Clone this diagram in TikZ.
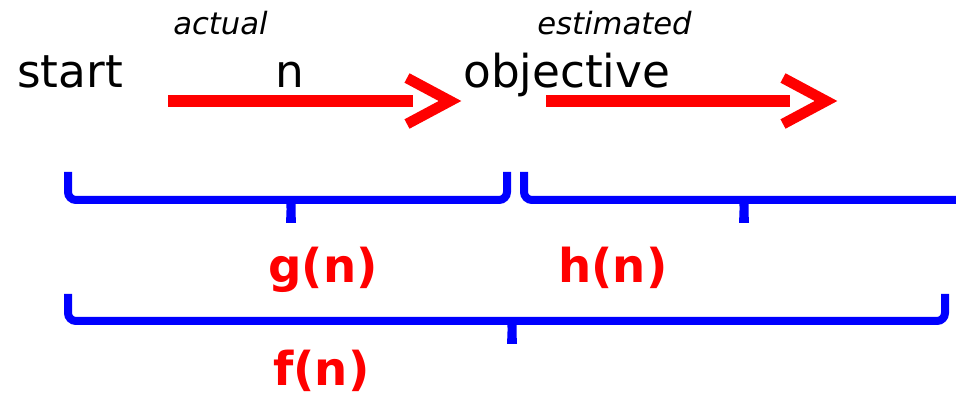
\documentclass[tikz,border=0pt]{standalone}
\usepackage{fontspec}
\setmainfont{DejaVu Sans}
\usepackage{tikz}
\usetikzlibrary{positioning,calc}

\tikzset{
  word/.style={anchor=base west, inner sep=0pt, font=\fontsize{34}{40}\selectfont},
  note/.style={anchor=base west, inner sep=0pt, font=\fontsize{23}{28}\selectfont\itshape},
  func/.style={anchor=base west, inner sep=0pt, text=red, font=\fontsize{35}{42}\selectfont\bfseries},
  shaft/.style={draw=red, line width=9pt},
  head/.style={draw=red, line width=8pt, miter limit=10},
  bracket/.style={draw=blue, line width=6pt, rounded corners=6pt},
  tip/.style={fill=blue}
}

\begin{document}
\begin{tikzpicture}[x=0.75pt, y=-0.75pt]
      \useasboundingbox (0,0) rectangle (956,398);
      \clip (0,0) rectangle (956,398);
      % words on the top line
      \node (start) [word] at (17,88) {start};
      \node (n) [word] at (275,88) {n};
      \node (obj) [word] at (463,88) {objective};
      \node (actual) [note] at (173,35) {actual};
      \node (estimated) [note] at (537,35) {estimated};
      % arrows
      \coordinate (a1s) at (168,101);
      \coordinate (a1e) at (413,101);
      \coordinate (a1t) at (450,101);
      \coordinate (a2s) at (546,101);
      \coordinate (a2e) at (790,101);
      \coordinate (a2t) at (826,101);
      \draw[shaft] (a1s) -- (a1e);
      \draw[head] ($(a1t)+(-43,-23)$) -- (a1t) -- ($(a1t)+(-43,23)$);
      \draw[shaft] (a2s) -- (a2e);
      \draw[head] ($(a2t)+(-43,-23)$) -- (a2t) -- ($(a2t)+(-43,23)$);
      % braces
      \draw[bracket] (68,172) -- (68,200) -- (507,200) -- (507,172);
      \fill[tip] (282,198) .. controls (287,201) .. (286,223) -- (296,223) .. controls (295,201) .. (300,198) -- cycle;
      \draw[bracket] (524,172) -- (524,200) -- (975,200);
      \fill[tip] (735,198) .. controls (740,201) .. (739,223) -- (749,223) .. controls (748,201) .. (753,198) -- cycle;
      \draw[bracket] (68,294) -- (68,321) -- (945,321) -- (945,294);
      \fill[tip] (503,319) .. controls (508,322) .. (507,344) -- (517,344) .. controls (516,322) .. (521,319) -- cycle;
      % labels under the braces
      \node (g) [func] at (268,283) {g(n)};
      \node (h) [func] at (558,283) {h(n)};
      \node (f) [func] at (273,386) {f(n)};
    \end{tikzpicture}
\end{document}
